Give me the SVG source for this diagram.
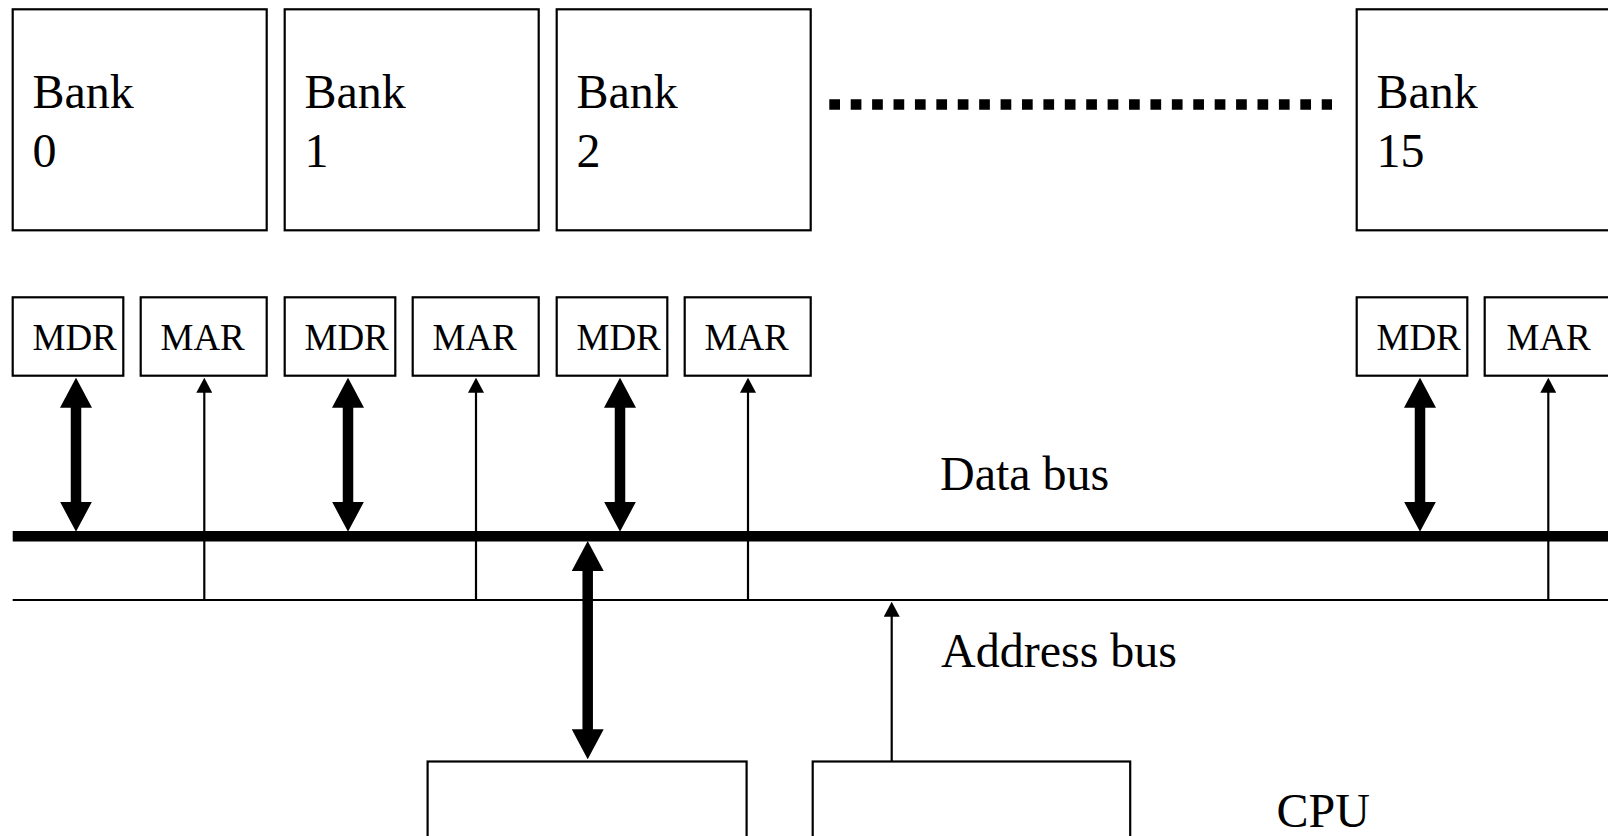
<svg xmlns="http://www.w3.org/2000/svg" width="1608" height="836" viewBox="0 0 1608 836">
<style>
  .box { fill: #fff; stroke: #000; stroke-width: 2.2; }
  .big { font-family: "Liberation Serif", "Times New Roman", serif; font-size: 48px; fill: #000; }
  .reg { font-family: "Liberation Serif", "Times New Roman", serif; font-size: 37px; fill: #000; }
  .thick { stroke: #000; stroke-width: 10.5; fill: none; }
  .thin { stroke: #000; stroke-width: 2.2; fill: none; }
</style>
<defs>
  <marker id="dbl" markerUnits="userSpaceOnUse" markerWidth="30" markerHeight="32" viewBox="0 0 30 32" refX="5" refY="16" orient="auto-start-reverse">
    <path d="M0,0 L30,16 L0,32 z" fill="#000"/>
  </marker>
  <marker id="sgl" markerUnits="userSpaceOnUse" markerWidth="15" markerHeight="16" viewBox="0 0 15 16" refX="5" refY="8" orient="auto">
    <path d="M0,0 L15,8 L0,16 z" fill="#000"/>
  </marker>
</defs>
<rect width="1608" height="836" fill="#fff"/>

<g id="bank0">
  <rect class="box" x="12.7" y="9.3" width="254" height="221"/>
  <text class="big" x="32.5" y="108">Bank</text>
  <text class="big" x="32.5" y="166.5">0</text>
</g>
<g id="bank1">
  <rect class="box" x="284.7" y="9.3" width="254" height="221"/>
  <text class="big" x="304.5" y="108">Bank</text>
  <text class="big" x="304.5" y="166.5">1</text>
</g>
<g id="bank2">
  <rect class="box" x="556.7" y="9.3" width="254" height="221"/>
  <text class="big" x="576.5" y="108">Bank</text>
  <text class="big" x="576.5" y="166.5">2</text>
</g>
<g id="bank15">
  <rect class="box" x="1356.7" y="9.3" width="254" height="221"/>
  <text class="big" x="1376.5" y="108">Bank</text>
  <text class="big" x="1376.5" y="166.5">15</text>
</g>

<g id="ellipsis">
  <line x1="829.3" y1="104.5" x2="1332" y2="104.5" stroke="#000" stroke-width="10.5" stroke-dasharray="10.7 10.71"/>
</g>

<g id="mdr0"><rect class="box" x="12.7" y="297.3" width="110.6" height="78.4"/><text class="reg" x="32.5" y="350">MDR</text></g>
<g id="mar0"><rect class="box" x="140.7" y="297.3" width="126" height="78.4"/><text class="reg" x="160.5" y="350">MAR</text></g>
<g id="mdr1"><rect class="box" x="284.7" y="297.3" width="110.6" height="78.4"/><text class="reg" x="304.5" y="350">MDR</text></g>
<g id="mar1"><rect class="box" x="412.7" y="297.3" width="126" height="78.4"/><text class="reg" x="432.5" y="350">MAR</text></g>
<g id="mdr2"><rect class="box" x="556.7" y="297.3" width="110.6" height="78.4"/><text class="reg" x="576.5" y="350">MDR</text></g>
<g id="mar2"><rect class="box" x="684.7" y="297.3" width="126" height="78.4"/><text class="reg" x="704.5" y="350">MAR</text></g>
<g id="mdr15"><rect class="box" x="1356.7" y="297.3" width="110.6" height="78.4"/><text class="reg" x="1376.5" y="350">MDR</text></g>
<g id="mar15"><rect class="box" x="1484.7" y="297.3" width="126" height="78.4"/><text class="reg" x="1506.5" y="350">MAR</text></g>

<g id="cpu_mdr"><rect class="box" x="427.6" y="761.5" width="319" height="100"/></g>
<g id="cpu_mar"><rect class="box" x="812.7" y="761.5" width="317.5" height="100"/></g>

<g id="labels">
  <text class="big" x="940" y="490">Data bus</text>
  <text class="big" x="941" y="666.5">Address bus</text>
  <text class="big" x="1276.5" y="826.5">CPU</text>
</g>

<g id="connectors">
  <line id="data-bus" class="thick" x1="12.7" y1="536.3" x2="1608" y2="536.3"/>
  <line id="address-bus" class="thin" x1="12.7" y1="600" x2="1608" y2="600"/>

  <line class="thick" x1="76" y1="402.7" x2="76" y2="506.7" marker-start="url(#dbl)" marker-end="url(#dbl)"/>
  <line class="thick" x1="348" y1="402.7" x2="348" y2="506.7" marker-start="url(#dbl)" marker-end="url(#dbl)"/>
  <line class="thick" x1="620" y1="402.7" x2="620" y2="506.7" marker-start="url(#dbl)" marker-end="url(#dbl)"/>
  <line class="thick" x1="1420" y1="402.7" x2="1420" y2="506.7" marker-start="url(#dbl)" marker-end="url(#dbl)"/>

  <line class="thin" x1="204.3" y1="600" x2="204.3" y2="387.7" marker-end="url(#sgl)"/>
  <line class="thin" x1="476" y1="600" x2="476" y2="387.7" marker-end="url(#sgl)"/>
  <line class="thin" x1="748" y1="600" x2="748" y2="387.7" marker-end="url(#sgl)"/>
  <line class="thin" x1="1548.3" y1="600" x2="1548.3" y2="387.7" marker-end="url(#sgl)"/>

  <line class="thick" x1="587.7" y1="566" x2="587.7" y2="734.3" marker-start="url(#dbl)" marker-end="url(#dbl)"/>
  <line class="thin" x1="891.7" y1="761.5" x2="891.7" y2="611.7" marker-end="url(#sgl)"/>
</g>
</svg>
